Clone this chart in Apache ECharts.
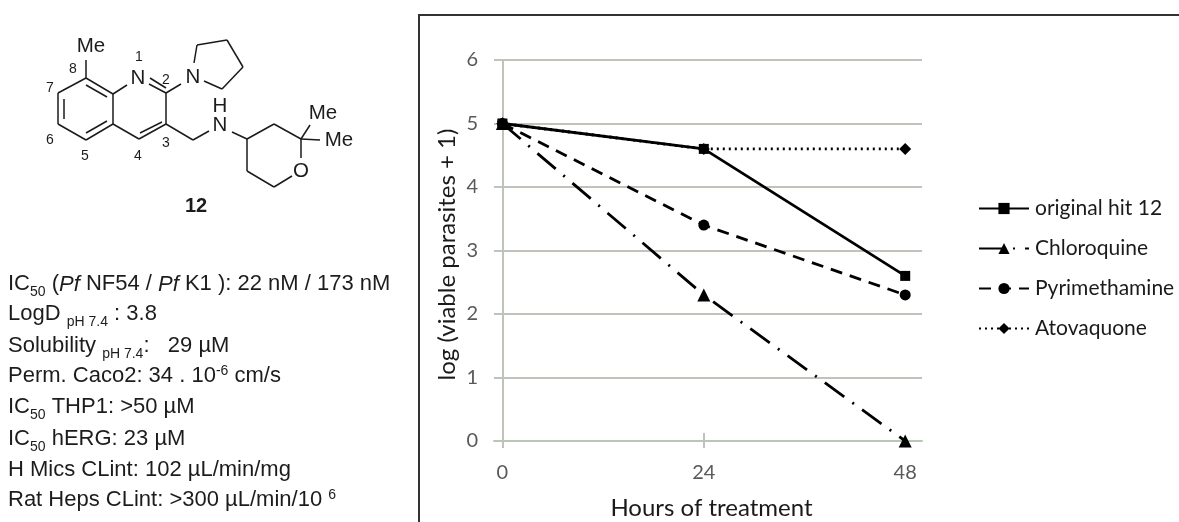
<!DOCTYPE html>
<html><head><meta charset="utf-8">
<style>html,body{margin:0;padding:0;background:#fff}#c{width:1179px;height:522px}</style>
<script src="https://cdn.jsdelivr.net/npm/echarts@6/dist/echarts.min.js"></script>
</head><body><div id="c"></div>
<script>
const hours = [0, 24, 48];
const originalHit = [5, 4.6, 2.6];
const chloroquine = [5, 2.3, 0];
const pyrimethamine = [5, 3.4, 2.3];
const atovaquone = [5, 4.6, 4.6];
const seriesNames = ['original hit 12', 'Chloroquine', 'Pyrimethamine', 'Atovaquone'];
const pairs = v => hours.map((h, i) => [h, v[i]]);

const chart = echarts.init(document.getElementById('c'), null, {renderer: 'canvas'});
const AR = '"Liberation Sans", Arial, sans-serif';
const CH = 'Lato, "Open Sans", sans-serif';
const INK = '#1c1c1c';

function line(x1, y1, x2, y2, w, col) {
  return {type: 'line', silent: true, shape: {x1, y1, x2, y2}, style: {stroke: col || '#1a1a1a', lineWidth: w || 1.5}};
}
function txt(x, y, s, o) {
  o = o || {};
  return {type: 'text', silent: true, x, y, style: {
    text: s, fill: o.fill || INK, align: o.align || 'left', verticalAlign: o.va || 'top',
    font: (o.style ? o.style + ' ' : '') + (o.size || 21) + 'px ' + AR}};
}

/* molecule drawing */
const bonds = [
  [86,60,86,78],[86,78,58,93],[58,93,58,124],[58,124,86,140],[86,140,113,124],[113,124,113,94],[113,94,86,78],
  [64,99,64,119],[86,133,107,121],[86,85,107,97],
  [113,94,127,85],[149,84,166,93],[150,78,166,88],[166,93,166,124],[166,124,139,139],[139,139,113,124],[162,122,140,133],
  [166,93,181,84],[194,63,197,45],[197,45,227,40],[227,40,243,67],[243,67,222,89],[222,89,204,81],
  [166,124,193,140],[193,140,209,131],[232,132,247,139],
  [247,139,274,124],[274,124,301,139],[301,139,301,158],[292,176,274,187],[274,187,247,171],[247,171,247,139],
  [301,139,310,125],[301,139,320,140]
];
const molecule = bonds.map(b => line(b[0], b[1], b[2], b[3]));
const lab = (x, y, s, size, style) => txt(x, y, s, {align: 'center', va: 'middle', size, style});
const molLabels = [
  lab(91,46,'Me',20.5), lab(138,78,'N',20.5), lab(193,77,'N',20.5), lab(220,125,'N',20.5), lab(220,106,'H',20.5),
  lab(301,171,'O',20.5), lab(323,113,'Me',20.5), lab(339,140,'Me',20.5), lab(196,206,'12',20,'bold'),
  lab(139,57,'1',14), lab(166,80,'2',14), lab(166,143,'3',14), lab(138,156,'4',14),
  lab(85,156,'5',14), lab(50,140,'6',14), lab(50,88,'7',14), lab(73,69,'8',14)
];

/* property list, laid out run by run: n normal, i italic, s subscript, u superscript */
const propLines = [
  [291, [['IC','n'],['50','s'],[' (','n'],['Pf','i'],[' NF54 / ','n'],['Pf','i'],[' K1 ): 22 nM / 173 nM','n']]],
  [321, [['LogD ','n'],['pH 7.4','s'],[' : 3.8','n']]],
  [353, [['Solubility ','n'],['pH 7.4','s'],[':   29 µM','n']]],
  [383, [['Perm. Caco2: 34 . 10','n'],['-6','u'],[' cm/s','n']]],
  [414, [['IC','n'],['50','s'],[' THP1: >50 µM','n']]],
  [446, [['IC','n'],['50','s'],[' hERG: 23 µM','n']]],
  [477, [['H Mics CLint: 102 µL/min/mg','n']]],
  [507, [['Rat Heps CLint: >300 µL/min/10 ','n'],['6','u']]]
];
const mctx = document.createElement('canvas').getContext('2d');
const BODY = 22, SMALL = 14;
const props = [];
propLines.forEach(([base, runs]) => {
  let x = 8;
  runs.forEach(([s, k]) => {
    const size = (k === 's' || k === 'u') ? SMALL : BODY;
    const style = k === 'i' ? 'italic' : '';
    const off = k === 's' ? 5 : k === 'u' ? -8 : 0;
    props.push(txt(x, base + off - size * 0.8, s, {size, style}));
    mctx.font = (style ? style + ' ' : '') + size + 'px ' + AR;
    x += mctx.measureText(s).width;
  });
});

const frame = [line(419,15,419,522,2,'#333'), line(418,15,1179,15,2,'#333')];

function ser(name, vals, symbol, size, ltype, z) {
  return {type: 'line', name, symbol, symbolSize: size, showSymbol: true, z,
    data: pairs(vals), itemStyle: {color: '#000'}, emphasis: {disabled: true},
    lineStyle: {color: '#000', width: 2.8, type: ltype}};
}

chart.setOption({
  animation: false,
  backgroundColor: '#fff',
  grid: {left: 494, top: 60, width: 428, height: 381, outerBoundsMode: 'none'},
  legend: {
    orient: 'vertical', left: 978, top: 198, padding: 0, itemWidth: 50, itemHeight: 14, itemGap: 19,
    selectedMode: false,
    textStyle: {fontFamily: CH, fontSize: 21, color: '#1a1a1a', padding: [0,0,0,1]},
    data: seriesNames
  },
  xAxis: [{
    type: 'value', min: -1, max: 50,
    name: 'Hours of treatment', nameLocation: 'middle', nameGap: 55,
    nameTextStyle: {fontFamily: CH, fontSize: 24, color: '#1a1a1a', padding: [0,0,0,7]},
    axisLine: {onZero: false, lineStyle: {color: '#b9c8b4', width: 2}},
    axisTick: {show: true, customValues: [0, 24], length: 7, lineStyle: {color: '#bfc4bb', width: 2}},
    axisLabel: {customValues: hours, margin: 22, fontFamily: CH, fontSize: 20, color: '#595959'},
    splitLine: {show: false}
  }, {
    type: 'value', min: -1, max: 50, position: 'bottom',
    axisLine: {show: false},
    axisTick: {show: true, inside: true, customValues: [24], length: 8, lineStyle: {color: '#bfc4bb', width: 2}},
    axisLabel: {show: false},
    splitLine: {show: false}
  }],
  yAxis: {
    type: 'value', min: 0, max: 6, interval: 1,
    name: 'log (viable parasites + 1)', nameLocation: 'middle', nameGap: 35, nameRotate: 90,
    nameTextStyle: {fontFamily: CH, fontSize: 24, color: '#1a1a1a', padding: [0,8,0,0]},
    axisLine: {show: true, onZero: true, lineStyle: {color: '#bfc4bb', width: 2}},
    axisTick: {show: false},
    axisLabel: {margin: 16, fontFamily: CH, fontSize: 20, color: '#595959'},
    splitLine: {show: true, lineStyle: {color: '#bfc4bb', width: 2}}
  },
  series: [
    ser(seriesNames[3], atovaquone, 'diamond', 12, [2,4], 2),
    ser(seriesNames[2], pyrimethamine, 'circle', 11, [12,8], 3),
    ser(seriesNames[1], chloroquine, 'triangle', 13, [24,10,2,10], 3),
    ser(seriesNames[0], originalHit, 'rect', 10, 'solid', 4)
  ],
  graphic: {elements: [].concat(frame, molecule, molLabels, props)}
});
</script></body></html>
